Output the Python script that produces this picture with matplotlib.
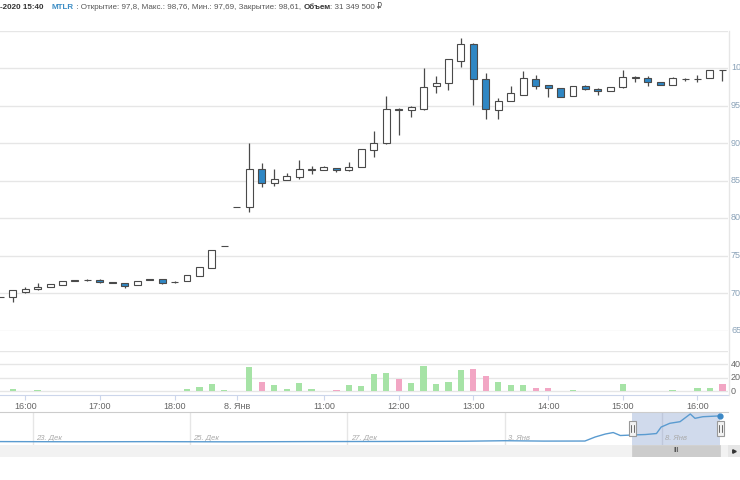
import matplotlib
matplotlib.use("Agg")
import matplotlib.pyplot as plt
from matplotlib.patches import Rectangle
from matplotlib.lines import Line2D
import matplotlib.transforms as mtransforms

plt.rcParams['font.family'] = ['Liberation Sans', 'DejaVu Sans']

# ---------------- data ----------------
opens = [69.47, 69.5, 70.2, 70.5, 70.75, 71.1, 71.6, 71.73, 71.78, 71.5,
         71.37, 71.03, 71.9, 71.83, 71.5, 71.6, 72.3, 73.4, 76.27, 81.5,
         81.45, 86.6, 84.7, 85.07, 85.5, 86.45, 86.4, 86.65, 86.35, 86.75,
         89.1, 89.95, 94.5, 94.4, 94.6, 97.6, 97.95, 100.95, 103.15, 98.6,
         94.4, 95.6, 96.4, 98.6, 97.75, 97.3, 96.25, 97.6, 97.2, 97.0,
         97.45, 98.7, 98.7, 98.15, 97.8, 98.55, 98.5, 98.65, 99.75]
highs = [69.47, 70.4, 70.8, 71.3, 71.15, 71.6, 71.8, 71.85, 71.9, 71.5,
         71.4, 71.56, 71.9, 71.9, 71.65, 72.35, 73.4, 75.75, 76.27, 81.5,
         89.95, 87.3, 86.5, 85.95, 87.75, 86.93, 86.9, 86.7, 87.5, 89.15,
         91.65, 96.25, 94.7, 94.95, 99.95, 98.95, 101.2, 103.95, 103.3, 99.4,
         95.95, 97.6, 99.6, 99.05, 97.8, 97.3, 97.6, 97.7, 97.3, 97.45,
         99.75, 98.98, 98.98, 98.2, 98.76, 98.65, 99.1, 99.75, 99.8]
lows = [69.47, 68.85, 70.0, 70.45, 70.75, 71.1, 71.55, 71.6, 71.3, 71.3,
        70.65, 71.03, 71.75, 71.15, 71.35, 71.6, 72.3, 73.4, 76.27, 81.5,
        80.8, 84.2, 84.3, 85.05, 85.25, 85.83, 86.35, 86.2, 86.3, 86.75,
        88.2, 89.9, 91.05, 93.45, 94.4, 96.7, 97.05, 100.1, 95.05, 93.25,
        93.25, 95.55, 96.35, 97.2, 96.2, 96.2, 96.25, 97.05, 96.4, 97.0,
        97.35, 98.18, 97.64, 97.7, 97.69, 98.3, 98.2, 98.65, 98.25]
closes = [69.47, 70.4, 70.6, 70.85, 71.15, 71.6, 71.75, 71.73, 71.45, 71.3,
          70.93, 71.56, 71.75, 71.3, 71.45, 72.35, 73.4, 75.75, 76.27, 81.5,
          86.5, 84.7, 85.2, 85.6, 86.5, 86.5, 86.8, 86.35, 86.85, 89.15,
          89.95, 94.5, 94.45, 94.8, 97.4, 97.95, 101.15, 103.15, 98.5, 94.5,
          95.65, 96.7, 98.7, 97.65, 97.3, 96.2, 97.6, 97.15, 96.95, 97.45,
          98.75, 98.75, 98.1, 97.75, 98.61, 98.5, 98.55, 99.75, 99.7]
volumes = [0, 3.5, 1, 1.5, 0, 0.8, 0, 0, 0, 0,
           0.8, 0, 0, 0.8, 0, 3, 6, 11, 1.5, 0,
           36, 14, 9.4, 3, 12, 3, 1, 1.5, 9, 8,
           26, 27, 19, 12, 37, 11, 14.5, 31, 33, 23,
           14, 10, 10, 5, 5, 0.8, 1.5, 0.8, 0.8, 0.8,
           11, 0.8, 0.8, 0.8, 1.5, 0.8, 4.5, 4.5, 11]

tick_index = [2, 8, 14, 19, 26, 32, 38, 44, 50, 56]
tick_labels = ["16:00", "17:00", "18:00", "8. Янв", "11:00", "12:00",
               "13:00", "14:00", "15:00", "16:00"]
price_ticks = [65, 70, 75, 80, 85, 90, 95, 100, 105]
price_labels = ["65", "70", "75", "80", "85", "90", "95", "100", ""]
vol_ticks = [0, 20, 40, 60]
vol_labels = ["0", "20", "40", ""]

# navigator overview (trading-day units from 23 Dec)
nav_day = [-0.42, 0.5, 1.5, 2.5, 3.5, 4.5, 5.5, 6.0, 6.5, 7.02, 7.15, 7.28,
           7.38, 7.47, 7.62, 7.79, 7.93, 7.99, 8.10, 8.23, 8.36, 8.42, 8.52,
           8.70, 8.74]
nav_val = [59.4, 59.1, 59.3, 59.0, 59.4, 59.6, 60.0, 60.8, 60.2, 60.3, 66.8,
           71.6, 74.0, 69.2, 70.0, 70.8, 72.4, 82.9, 88.9, 91.5, 103.9, 96.9,
           99.5, 100.6, 100.6]
nav_grid_day = [0, 2, 4, 6, 8]
nav_grid_labels = ["23. Дек", "25. Дек", "27. Дек", "3. Янв", "8. Янв"]
nav_window = [7.62, 8.74]

# ---------------- layout helpers ----------------
W, H = 740, 480
fig = plt.figure(figsize=(W / 100, H / 100), dpi=100)
fig.patch.set_facecolor('white')


def rect(x0, y0, x1, y1):
    return [x0 / W, 1 - y1 / H, (x1 - x0) / W, (y1 - y0) / H]


UP_FILL = 'white'
DOWN_FILL = '#2f87c4'
EDGE = '#4a4a4a'
GRID = '#e6e6e6'
VOL_UP = '#a6e3a6'
VOL_DN = '#f2a6c4'
XMIN, XMAX = -0.02, 58.45

# ---------------- price panel ----------------
ax = fig.add_axes(rect(0, 30.5, 728, 330.5))
ax.set_xlim(XMIN, XMAX)
ax.set_ylim(65, 105)
for s in ax.spines.values():
    s.set_visible(False)
ax.set_yticks(price_ticks)
ax.yaxis.grid(True, color=GRID, lw=1)
ax.set_axisbelow(True)
ax.tick_params(left=False, labelleft=False, bottom=False, labelbottom=False)

body_w = 0.56
for i, (o, h, l, c) in enumerate(zip(opens, highs, lows, closes)):
    ax.plot([i, i], [l, h], color=EDGE, lw=0.9, zorder=2, solid_capstyle='butt')
    lo, hi = min(o, c), max(o, c)
    fc = UP_FILL if c >= o else DOWN_FILL
    ax.add_patch(Rectangle((i - body_w / 2, lo), body_w, hi - lo,
                           facecolor=fc, edgecolor=EDGE, lw=0.8, zorder=3))

ytr = mtransforms.blended_transform_factory(ax.transAxes, ax.transData)
for v, lab in zip(price_ticks, price_labels):
    if lab:
        ax.text(1 + 3 / 728, v, lab, transform=ytr, ha='left', va='center',
                fontsize=6.5, color='#8aa2b8', clip_on=False)

# ---------------- volume panel ----------------
vax = fig.add_axes(rect(0, 350.8, 728, 395.3))
vax.set_xlim(XMIN, XMAX)
vax.set_ylim(-5.8, 60)
for k, s in vax.spines.items():
    s.set_visible(k == 'bottom')
vax.spines['bottom'].set_color('#ccd6eb')
vax.set_yticks(vol_ticks)
vax.yaxis.grid(True, color=GRID, lw=1)
vax.set_axisbelow(True)
vcolors = [VOL_UP if c >= o else VOL_DN for o, c in zip(opens, closes)]
vax.bar(range(len(volumes)), volumes, width=0.5, color=vcolors, zorder=2)
vax.set_xticks(tick_index)
vax.set_xticklabels(tick_labels)
vax.tick_params(axis='x', length=3.6, color='#ccd6eb', pad=1, labelsize=6.5,
                labelcolor='#666666')
vax.tick_params(axis='y', left=False, labelleft=False)
vtr = mtransforms.blended_transform_factory(vax.transAxes, vax.transData)
for v, lab in zip(vol_ticks, vol_labels):
    if lab:
        vax.text(1 + 3 / 728, v, lab, transform=vtr, ha='left', va='center',
                 fontsize=6.5, color='#666666', clip_on=False)

# right border line of plot area
fig.add_artist(Line2D([729 / W, 729 / W], [1 - 30.5 / H, 1 - 395.3 / H],
                      color=GRID, lw=1))

# ---------------- navigator ----------------
nax = fig.add_axes(rect(0, 411.7, 728, 445))
nax.set_xlim(-0.42, 8.84)
nax.set_ylim(53.9, 107.6)
for k, s in nax.spines.items():
    s.set_visible(k == 'top')
nax.spines['top'].set_color('#cccccc')
nax.tick_params(left=False, labelleft=False, bottom=False, labelbottom=False)
ntr = mtransforms.blended_transform_factory(nax.transData, nax.transAxes)
for d, lab in zip(nav_grid_day, nav_grid_labels):
    nax.axvline(d, color=GRID, lw=1, zorder=0)
    nax.text(d + 0.04, 0.2, lab, transform=ntr, fontsize=5.5, color='#aaaaaa',
             ha='left', va='center', style='italic')
nax.axvspan(nav_window[0], nav_window[1], color=(102 / 255, 133 / 255, 194 / 255, 0.3),
            lw=0, zorder=1)
nax.plot(nav_day, nav_val, color='#5a9bd0', lw=1, zorder=3)
nax.plot([nav_day[-1]], [nav_val[-1]], 'o', ms=3.5, color='#3c88c6', zorder=4,
         clip_on=False)
hw = 7 / 78.6
for xh in nav_window:
    nax.add_patch(Rectangle((xh - hw / 2, 0.28), hw, 0.45, transform=ntr,
                            facecolor='#f2f2f2', edgecolor='#999999', lw=0.8,
                            zorder=5, clip_on=False))
    for dx in (-0.22, 0.22):
        nax.plot([xh + dx * hw, xh + dx * hw], [0.4, 0.6], transform=ntr,
                 color='#333333', lw=0.5, zorder=6, clip_on=False)

# ---------------- scrollbar ----------------
sax = fig.add_axes(rect(0, 445, 740, 457))
sx0 = -0.42
sx1 = sx0 + 9.26 * 740 / 728
sax.set_xlim(sx0, sx1)
sax.set_ylim(0, 1)
sax.axis('off')
sax.add_patch(Rectangle((sx0, 0), sx1 - sx0, 1, facecolor='#f2f2f2', lw=0))
sax.add_patch(Rectangle((nav_window[0], 0), nav_window[1] - nav_window[0], 1,
                        facecolor='#cccccc', edgecolor='#cccccc', lw=0.5))
sax.add_patch(Rectangle((8.84, 0), sx1 - 8.84, 1, facecolor='#e6e6e6', lw=0))
sax.text((nav_window[0] + nav_window[1]) / 2, 0.5, "III", fontsize=5,
         color='#333333', ha='center', va='center')
sax.plot([(8.84 + sx1) / 2], [0.5], marker='>', ms=2.5, color='#333333')

# ---------------- header ----------------
hax = fig.add_axes([0, 0, 1, 1], facecolor='none')
hax.axis('off')
hy = 1 - 7.5 / H
fs = 5.8
t1 = hax.text(0.0, hy, "-2020 15:40", fontsize=fs, fontweight='bold',
              color='#333333', va='center', ha='left')
a2 = hax.annotate("MTLR", xy=(1, 0.5), xycoords=t1, xytext=(6, 0),
                  textcoords='offset points', fontsize=fs, fontweight='bold',
                  color='#3c8dc5', va='center', ha='left', annotation_clip=False)
a3 = hax.annotate(" : Открытие: 97,8, Макс.: 98,76, Мин.: 97,69, Закрытие: 98,61, ",
                  xy=(1, 0.5), xycoords=a2, xytext=(0, 0),
                  textcoords='offset points', fontsize=fs, color='#555555',
                  va='center', ha='left', annotation_clip=False)
a4 = hax.annotate("Объем", xy=(1, 0.5), xycoords=a3, xytext=(0, 0),
                  textcoords='offset points', fontsize=fs, fontweight='bold',
                  color='#333333', va='center', ha='left', annotation_clip=False)
a5 = hax.annotate(": 31 349 500 ₽", xy=(1, 0.5), xycoords=a4, xytext=(0, 0),
                  textcoords='offset points', fontsize=fs, color='#555555',
                  va='center', ha='left', annotation_clip=False)

fig.savefig("out.png", dpi=100, facecolor='white')
